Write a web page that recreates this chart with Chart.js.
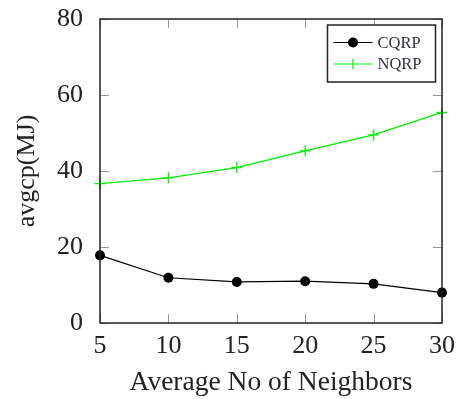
<!DOCTYPE html>
<html>
<head>
<meta charset="utf-8">
<script src="https://cdn.jsdelivr.net/npm/chart.js@4.4.1/dist/chart.umd.min.js"></script>
<style>
  html, body { margin: 0; padding: 0; background: #fff; }
  #wrap { width: 456px; height: 399px; }
</style>
</head>
<body>
<div id="wrap"><canvas id="c" width="456" height="399"></canvas></div>
<script>
// Average number of neighbours on the x axis
const neighbors = [5, 10, 15, 20, 25, 30];
// Average energy consumption (MJ) per protocol
const cqrp = [17.8, 11.9, 10.8, 11.0, 10.3, 8.0];
const nqrp = [36.7, 38.2, 40.9, 45.3, 49.5, 55.4];
const xTicks = [5, 10, 15, 20, 25, 30];
const yTicks = [0, 20, 40, 60, 80];

const SERIF = '"Liberation Serif", "DejaVu Serif", serif';
const TEXT = '#222';

// Frame around the plot area with inward ticks on every side
const framePlugin = {
  id: 'frame',
  afterDatasetsDraw(chart) {
    const { ctx, chartArea: a, scales } = chart;
    ctx.save();
    ctx.strokeStyle = '#999';
    ctx.lineWidth = 1;
    const len = 9;
    xTicks.forEach(v => {
      const x = Math.round(scales.x.getPixelForValue(v)) + 0.5;
      ctx.beginPath();
      ctx.moveTo(x, a.bottom); ctx.lineTo(x, a.bottom - len);
      ctx.moveTo(x, a.top); ctx.lineTo(x, a.top + len);
      ctx.stroke();
    });
    yTicks.forEach(v => {
      const y = Math.round(scales.y.getPixelForValue(v)) + 0.5;
      ctx.beginPath();
      ctx.moveTo(a.left, y); ctx.lineTo(a.left + len, y);
      ctx.moveTo(a.right, y); ctx.lineTo(a.right - len, y);
      ctx.stroke();
    });
    ctx.strokeStyle = '#222';
    ctx.lineWidth = 1.5;
    ctx.strokeRect(a.left, a.top, a.right - a.left, a.bottom - a.top);
    ctx.restore();
  }
};

// Boxed legend in the upper right corner of the plot
const boxLegend = {
  id: 'boxLegend',
  afterDraw(chart) {
    const { ctx, chartArea: a } = chart;
    const bx = a.right - 114.5, by = a.top + 6, bw = 108, bh = 57;
    ctx.save();
    ctx.fillStyle = '#fff';
    ctx.fillRect(bx, by, bw, bh);
    ctx.strokeStyle = '#222';
    ctx.lineWidth = 1.5;
    ctx.strokeRect(bx, by, bw, bh);
    chart.data.datasets.forEach((ds, i) => {
      const y = by + 17.5 + i * 21.5;
      const x0 = bx + 6, x1 = bx + 45, xm = (x0 + x1) / 2;
      ctx.strokeStyle = ds.borderColor;
      ctx.lineWidth = 1.2;
      ctx.beginPath(); ctx.moveTo(x0, y); ctx.lineTo(x1, y); ctx.stroke();
      if (ds.pointStyle === 'circle') {
        ctx.fillStyle = ds.pointBackgroundColor;
        ctx.beginPath(); ctx.arc(xm, y, 5, 0, Math.PI * 2); ctx.fill();
      } else {
        ctx.beginPath();
        ctx.moveTo(xm, y - 5); ctx.lineTo(xm, y + 5);
        ctx.stroke();
      }
      ctx.fillStyle = '#334';
      ctx.font = '16.5px ' + SERIF;
      ctx.textBaseline = 'middle';
      ctx.textAlign = 'left';
      ctx.fillText(ds.label, bx + 50, y + 1);
    });
    ctx.restore();
  }
};

new Chart(document.getElementById('c'), {
  type: 'line',
  data: {
    datasets: [
      {
        label: 'CQRP',
        data: neighbors.map((x, i) => ({ x, y: cqrp[i] })),
        borderColor: '#000',
        borderWidth: 1.2,
        pointStyle: 'circle',
        pointRadius: 5,
        pointBackgroundColor: '#000',
        pointBorderColor: '#000',
        pointBorderWidth: 0,
        tension: 0
      },
      {
        label: 'NQRP',
        data: neighbors.map((x, i) => ({ x, y: nqrp[i] })),
        borderColor: '#00ee00',
        borderWidth: 1.3,
        pointStyle: 'cross',
        pointRadius: 5.5,
        pointBorderColor: '#00ee00',
        pointBorderWidth: 1.3,
        tension: 0
      }
    ]
  },
  options: {
    responsive: false,
    animation: false,
    clip: false,
    layout: { padding: { left: 12, right: 14, top: 19, bottom: 0 } },
    plugins: { legend: { display: false }, tooltip: { enabled: false } },
    scales: {
      x: {
        type: 'linear',
        min: 5, max: 30,
        afterBuildTicks(s) { s.ticks = xTicks.map(v => ({ value: v })); },
        afterFit(s) { s.height = 76; s.paddingLeft = 0; s.paddingRight = 0; },
        grid: { display: false },
        border: { display: false },
        ticks: { color: TEXT, font: { family: SERIF, size: 26 }, padding: 0, maxRotation: 0 },
        title: {
          display: true,
          text: 'Average No of Neighbors',
          color: TEXT,
          font: { family: SERIF, size: 27.5 },
          padding: { top: 0, bottom: 0 }
        }
      },
      y: {
        type: 'linear',
        min: 0, max: 80,
        afterBuildTicks(s) { s.ticks = yTicks.map(v => ({ value: v })); },
        afterFit(s) { s.width = 88; s.paddingTop = 0; s.paddingBottom = 0; },
        grid: { display: false },
        border: { display: false },
        ticks: { color: TEXT, font: { family: SERIF, size: 26 }, padding: 9 },
        title: {
          display: true,
          text: 'avgcp(MJ)',
          color: TEXT,
          font: { family: SERIF, size: 26 },
          padding: { top: 0, bottom: 4 }
        }
      }
    }
  },
  plugins: [framePlugin, boxLegend]
});
</script>
</body>
</html>
